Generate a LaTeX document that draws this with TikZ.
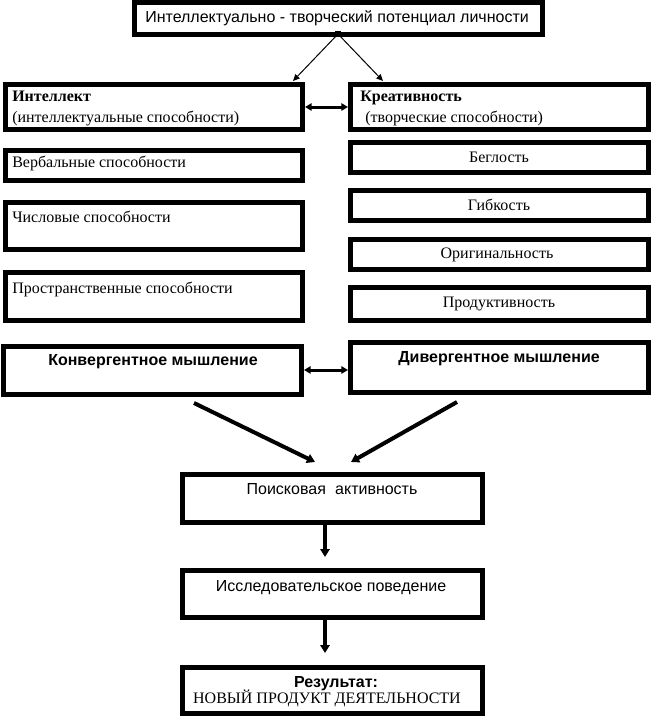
\documentclass[tikz,border=0pt]{standalone}
\usepackage{fontspec}
\setmainfont{Liberation Serif}
\setsansfont{Liberation Sans}
\usetikzlibrary{arrows.meta}
\newcommand\bx[5]{\node[box, minimum width={(#4-#2-5)*0.75pt}, minimum height={(#5-#3-5)*0.75pt}] (#1) at ({(#2+#4)/2},{(#3+#5)/2}) {};}
\begin{document}
\begin{tikzpicture}[x=0.75pt,y=-0.75pt,
  box/.style={draw, line width=3.75pt, inner sep=0pt},
  lt/.style={anchor=base west, inner sep=0pt},
  ct/.style={anchor=base, inner sep=0pt},
  sr/.style={font=\fontsize{12}{14}\selectfont\rmfamily},
  srb/.style={font=\fontsize{12}{14}\selectfont\rmfamily\bfseries},
  ss/.style={font=\fontsize{12}{14}\selectfont\sffamily},
  ssb/.style={font=\fontsize{12}{14}\selectfont\sffamily\bfseries},
  thinarr/.style={line width=0.75pt, -{Triangle[length=5pt,width=4.5pt]}},
  dblarr/.style={line width=2.25pt, {Triangle[length=5pt,width=5.5pt]}-{Triangle[length=5pt,width=5.5pt]}},
  bigarr/.style={line width=3pt, -{Triangle[length=6pt,width=7pt]}}]
\useasboundingbox (0,0) rectangle (653,717);
% boxes
\bx{top}{132}{0}{545}{37}
\bx{intel}{3}{82}{305}{132}
\bx{creat}{348}{82}{651}{132}
\bx{verb}{3}{148}{305}{183}
\bx{chisl}{3}{200}{305}{252}
\bx{prostr}{3}{270}{305}{323}
\bx{begl}{348}{140}{651}{175}
\bx{gibk}{348}{188}{651}{223}
\bx{orig}{348}{237}{651}{272}
\bx{prod}{348}{285}{651}{323}
\bx{conv}{1}{344}{304}{397}
\bx{div}{348}{340}{651}{395}
\bx{poisk}{180}{472}{485}{525}
\bx{issl}{180}{568}{485}{620}
\bx{rez}{180}{665}{485}{716}
% texts
\node[lt,ss] (ttop) at (145,23) {Интеллектуально - творческий потенциал личности};
\node[lt,srb] (tintel) at (12,102) {Интеллект};
\node[lt,sr] (tintel2) at (12,122) {(интеллектуальные способности)};
\node[lt,sr] (tverb) at (12,167) {Вербальные способности};
\node[lt,sr] (tchisl) at (12,222) {Числовые способности};
\node[lt,sr] (tprostr) at (12,293) {Пространственные способности};
\node[lt,srb] (tcreat) at (360,102) {Креативность};
\node[lt,sr] (tcreat2) at (365,122) {(творческие способности)};
\node[ct,sr] (tbegl) at (499,162) {Беглость};
\node[ct,sr] (tgibk) at (499,210) {Гибкость};
\node[ct,sr] (torig) at (497,258) {Оригинальность};
\node[ct,sr] (tprod) at (499,307) {Продуктивность};
\node[ct,ssb] (tconv) at (153,365) {Конвергентное мышление};
\node[ct,ssb] (tdiv) at (499,362) {Дивергентное мышление};
\node[ct,ss] (tpoisk) at (332,494) {Поисковая\hspace{0.3em} активность};
\node[ct,ss] (tissl) at (331,591) {Исследовательское поведение};
\node[ct,ssb] (trez) at (336,687) {Результат:};
\node[ct,sr] (trez2) at (327,703) {НОВЫЙ ПРОДУКТ ДЕЯТЕЛЬНОСТИ};
% connectors
\node[fill, inner sep=0pt, minimum size=5pt] (sq) at (338,34) {};
\coordinate (a1) at (293,81);
\coordinate (a2) at (383,81);
\draw[thinarr] (sq.center) -- (a1);
\draw[thinarr] (sq.center) -- (a2);
\draw[dblarr] (intel.east) -- (creat.west);
\draw[dblarr] (conv.east |- 0,370) -- (div.west |- 0,370);
\coordinate (b1) at (194,403);
\coordinate (b2) at (315,462);
\coordinate (c1) at (457,402);
\coordinate (c2) at (351,462);
\draw[bigarr] (b1) -- (b2);
\draw[bigarr] (c1) -- (c2);
\draw[bigarr] (325,0 |- poisk.south) -- (325,557);
\draw[bigarr] (325,0 |- issl.south) -- (325,653);
\end{tikzpicture}
\end{document}
